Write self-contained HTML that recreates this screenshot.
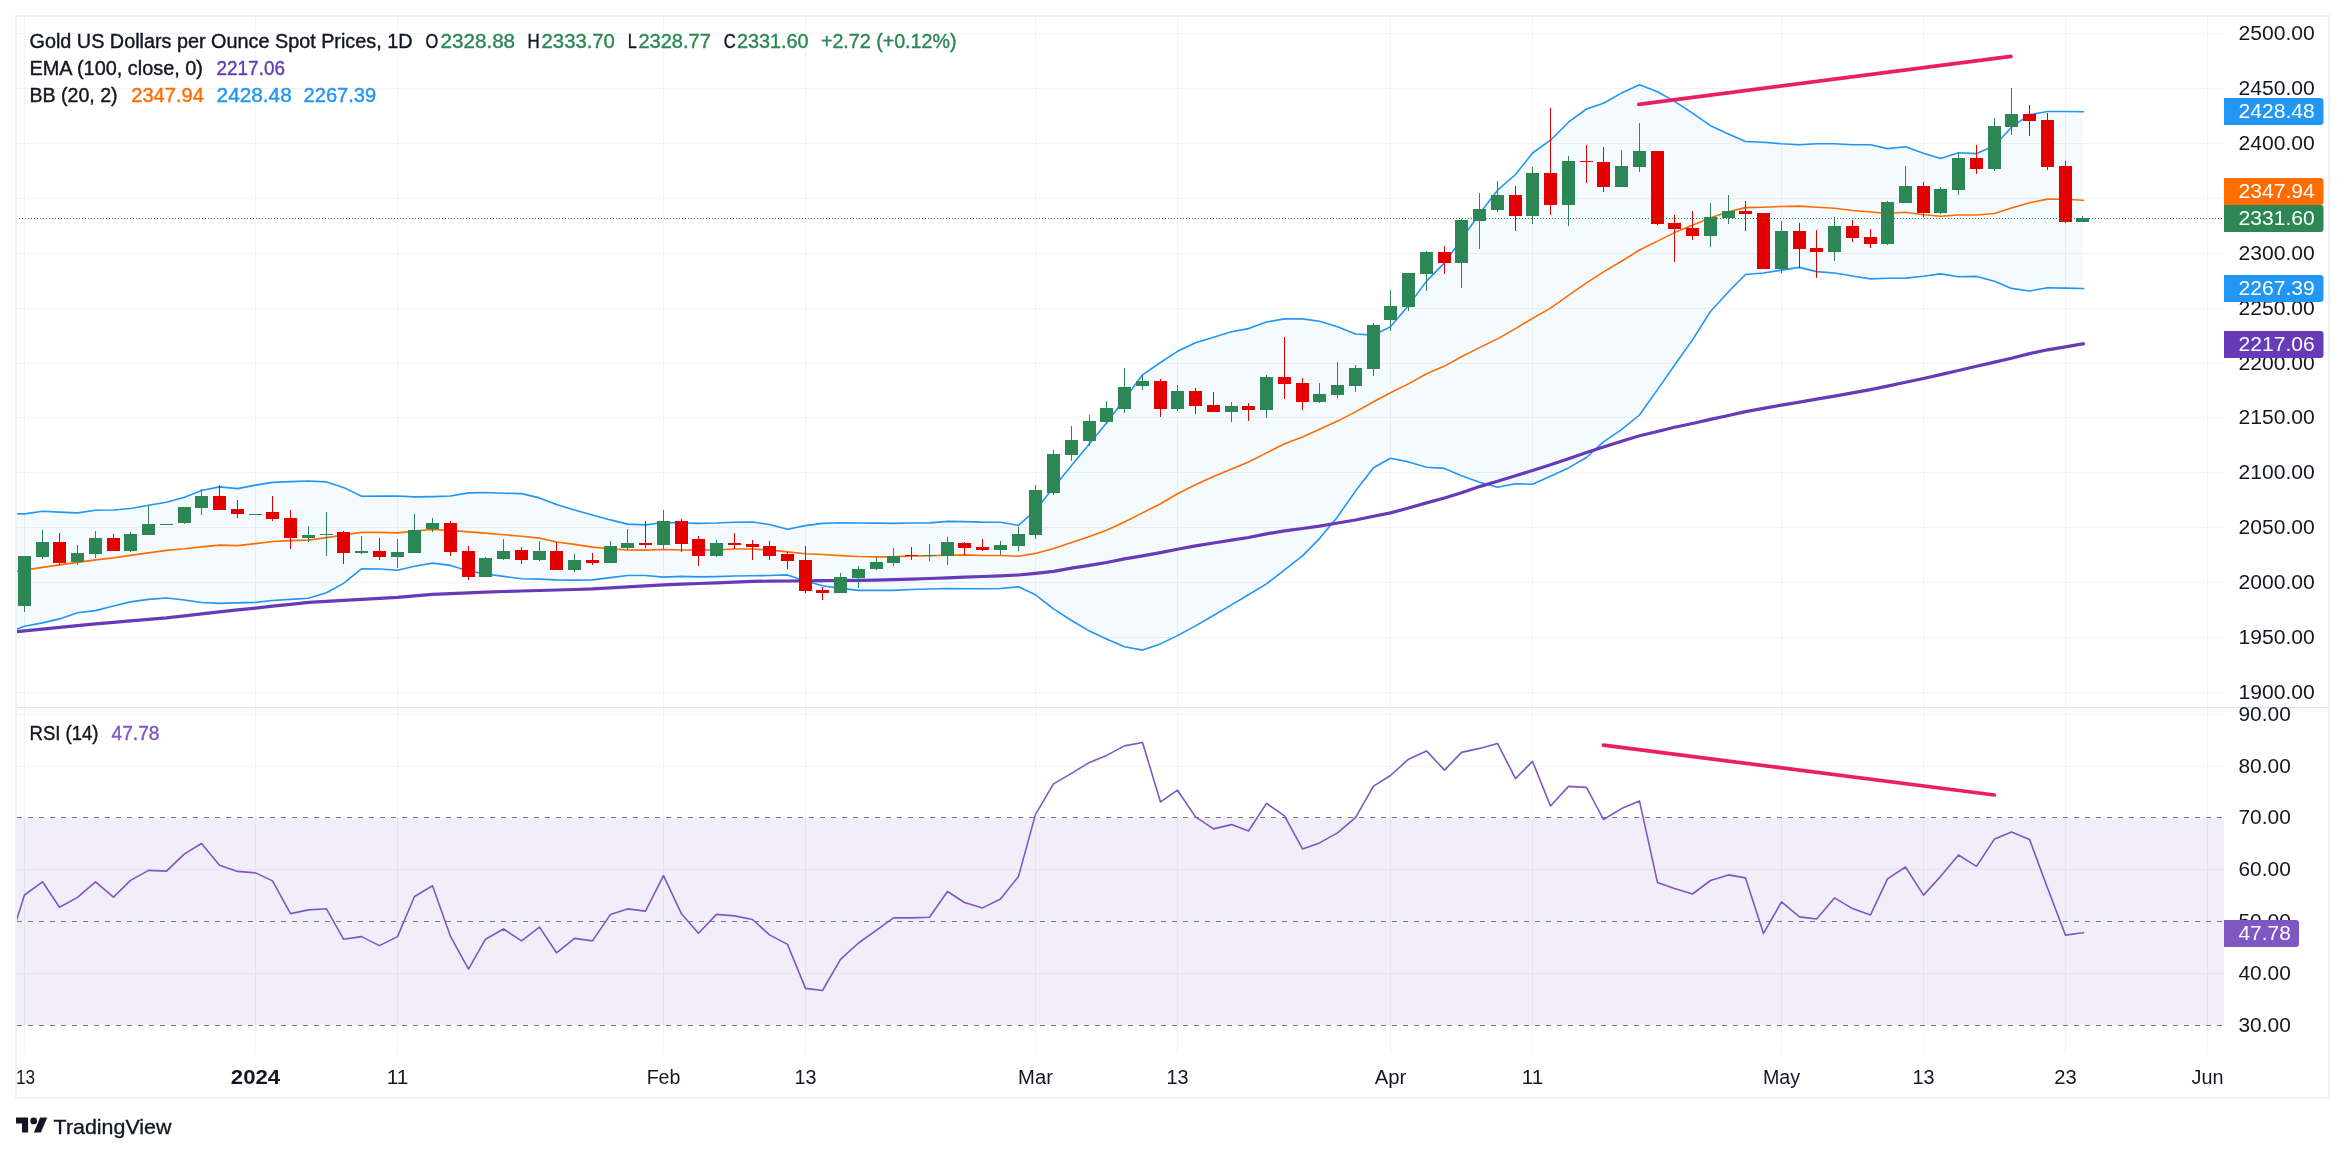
<!DOCTYPE html><html><head><meta charset="utf-8"><title>Gold chart</title>
<style>html,body{margin:0;padding:0;background:#fff}body{width:2345px;height:1154px}svg{display:block;will-change:transform}text{font-family:"Liberation Sans",sans-serif;}</style></head><body>
<svg width="2345" height="1154" viewBox="0 0 2345 1154">
<rect width="2345" height="1154" fill="#fff"/>
<defs><clipPath id="cp"><rect x="17" y="17" width="2207" height="690"/></clipPath><clipPath id="cr"><rect x="17" y="708" width="2207" height="346"/></clipPath></defs>
<path d="M24.5 15V1054M255.5 15V1054M397.5 15V1054M663.5 15V1054M805.5 15V1054M1035.5 15V1054M1177.5 15V1054M1390.5 15V1054M1532.5 15V1054M1781.5 15V1054M1923.5 15V1054M2065.5 15V1054M2207.5 15V1054M17 33.5H2224M17 88.5H2224M17 143.5H2224M17 198.5H2224M17 253.5H2224M17 308.5H2224M17 363.5H2224M17 417.5H2224M17 472.5H2224M17 527.5H2224M17 582.5H2224M17 637.5H2224M17 692.5H2224M17 714.5H2224M17 766.5H2224M17 869.5H2224M17 973.5H2224" stroke="rgba(42,46,57,0.06)" stroke-width="1" fill="none" shape-rendering="crispEdges"/>
<g clip-path="url(#cp)">
<path d="M6.8 513.4L24.5 513.9L42.5 511.3L59.5 512.1L77.5 512.9L95.5 510.3L113.5 510.0L130.5 508.5L148.5 505.3L166.5 502.2L184.5 497.2L201.5 490.5L219.5 486.9L237.5 488.6L255.5 485.1L272.5 482.4L290.5 481.6L308.5 481.0L326.5 481.9L343.5 487.4L361.5 496.3L379.5 496.1L397.5 496.0L414.5 496.9L432.5 496.6L450.5 496.0L468.5 492.9L485.5 492.5L503.5 493.2L521.5 493.6L539.5 497.9L556.5 504.6L574.5 510.0L592.5 515.0L610.5 519.9L627.5 524.1L645.5 524.9L663.5 522.5L681.5 523.0L698.5 523.4L716.5 523.0L734.5 522.2L752.5 522.0L769.5 524.5L787.5 529.2L805.5 525.6L822.5 523.4L840.5 522.8L858.5 523.0L876.5 523.1L893.5 523.4L911.5 523.0L929.5 522.9L947.5 521.4L964.5 521.6L982.5 522.1L1000.5 522.2L1018.5 525.4L1035.5 510.1L1053.5 487.5L1071.5 465.6L1089.5 443.8L1106.5 422.9L1124.5 399.2L1142.5 374.8L1160.5 362.5L1177.5 351.3L1195.5 342.8L1213.5 337.2L1231.5 331.8L1248.5 328.6L1266.5 322.0L1284.5 318.9L1302.5 318.9L1319.5 321.3L1337.5 326.8L1355.5 334.0L1373.5 335.1L1390.5 326.8L1408.5 305.5L1426.5 281.1L1444.5 262.9L1461.5 239.3L1479.5 213.8L1497.5 190.2L1515.5 174.5L1532.5 153.0L1550.5 140.2L1568.5 122.2L1586.5 109.0L1603.5 103.2L1621.5 93.1L1639.5 84.8L1657.5 91.7L1674.5 101.4L1692.5 113.2L1710.5 125.7L1728.5 134.0L1745.5 141.5L1763.5 142.2L1781.5 143.8L1799.5 144.8L1816.5 143.8L1834.5 143.8L1852.5 144.8L1870.5 144.8L1887.5 148.6L1905.5 146.7L1923.5 153.2L1940.5 158.5L1958.5 152.8L1976.5 153.6L1994.5 145.8L2011.5 127.2L2029.5 114.7L2047.5 111.5L2065.5 111.5L2082.5 111.7L2082.5 288.5L2065.5 288.1L2047.5 287.8L2029.5 291.0L2011.5 288.4L1994.5 281.3L1976.5 276.4L1958.5 276.8L1940.5 273.9L1923.5 276.2L1905.5 278.1L1887.5 278.2L1870.5 278.9L1852.5 276.0L1834.5 273.0L1816.5 271.6L1799.5 267.4L1781.5 270.1L1763.5 273.0L1745.5 274.5L1728.5 291.8L1710.5 311.5L1692.5 339.9L1674.5 365.3L1657.5 389.6L1639.5 415.0L1621.5 429.6L1603.5 441.8L1586.5 457.5L1568.5 467.9L1550.5 476.2L1532.5 484.2L1515.5 483.8L1497.5 487.3L1479.5 482.2L1461.5 475.8L1444.5 468.4L1426.5 467.2L1408.5 461.9L1390.5 458.2L1373.5 467.8L1355.5 491.1L1337.5 516.9L1319.5 538.6L1302.5 555.9L1284.5 569.9L1266.5 583.9L1248.5 594.8L1231.5 604.9L1213.5 615.5L1195.5 625.9L1177.5 635.6L1160.5 643.9L1142.5 650.1L1124.5 646.8L1106.5 638.9L1089.5 631.1L1071.5 620.5L1053.5 608.9L1035.5 594.8L1018.5 586.8L1000.5 588.5L982.5 588.8L964.5 588.8L947.5 588.5L929.5 589.0L911.5 589.5L893.5 590.4L876.5 590.4L858.5 590.4L840.5 588.4L822.5 585.8L805.5 581.0L787.5 574.9L769.5 575.5L752.5 575.8L734.5 576.0L716.5 576.6L698.5 576.9L681.5 576.4L663.5 577.1L645.5 575.5L627.5 575.5L610.5 577.6L592.5 579.9L574.5 580.1L556.5 579.9L539.5 579.1L521.5 578.8L503.5 576.4L485.5 574.0L468.5 570.9L450.5 565.4L432.5 563.1L414.5 566.2L397.5 570.2L379.5 569.0L361.5 568.9L343.5 583.4L326.5 592.8L308.5 598.2L290.5 599.4L272.5 600.5L255.5 602.4L237.5 602.9L219.5 603.4L201.5 602.5L184.5 600.0L166.5 598.0L148.5 599.4L130.5 601.9L113.5 606.0L95.5 610.6L77.5 612.8L59.5 618.9L42.5 622.9L24.5 626.2L6.8 633.1Z" fill="rgba(33,150,243,0.05)" stroke="none"/>
<path d="M6.8 572.9L24.5 570.1L42.5 567.4L59.5 564.9L77.5 562.4L95.5 559.9L113.5 557.9L130.5 555.4L148.5 552.9L166.5 550.4L184.5 548.8L201.5 546.9L219.5 545.1L237.5 545.6L255.5 543.6L272.5 541.5L290.5 540.6L308.5 540.1L326.5 537.6L343.5 535.0L361.5 532.4L379.5 532.4L397.5 532.9L414.5 531.1L432.5 529.5L450.5 530.4L468.5 531.9L485.5 533.1L503.5 534.8L521.5 536.2L539.5 538.1L556.5 542.0L574.5 544.4L592.5 547.1L610.5 548.8L627.5 550.0L645.5 550.1L663.5 549.5L681.5 550.0L698.5 550.1L716.5 549.9L734.5 549.0L752.5 549.0L769.5 549.9L787.5 551.9L805.5 553.8L822.5 554.5L840.5 555.6L858.5 556.5L876.5 556.9L893.5 556.9L911.5 555.9L929.5 555.8L947.5 555.2L964.5 554.9L982.5 555.5L1000.5 555.5L1018.5 556.2L1035.5 553.4L1053.5 548.4L1071.5 542.6L1089.5 536.6L1106.5 530.2L1124.5 522.0L1142.5 512.9L1160.5 503.8L1177.5 493.8L1195.5 484.8L1213.5 476.5L1231.5 468.9L1248.5 462.0L1266.5 452.9L1284.5 443.8L1302.5 437.1L1319.5 429.3L1337.5 421.1L1355.5 411.9L1373.5 401.8L1390.5 392.8L1408.5 383.9L1426.5 373.8L1444.5 366.1L1461.5 356.8L1479.5 347.6L1497.5 338.9L1515.5 328.6L1532.5 318.4L1550.5 308.1L1568.5 295.3L1586.5 282.8L1603.5 271.9L1621.5 261.3L1639.5 250.0L1657.5 241.1L1674.5 232.6L1692.5 225.2L1710.5 217.8L1728.5 211.7L1745.5 207.6L1763.5 207.2L1781.5 206.5L1799.5 206.1L1816.5 207.2L1834.5 208.2L1852.5 210.5L1870.5 212.0L1887.5 213.5L1905.5 212.2L1923.5 214.7L1940.5 216.2L1958.5 215.0L1976.5 215.0L1994.5 213.5L2011.5 208.1L2029.5 202.8L2047.5 199.1L2065.5 199.2L2082.5 200.2L2083.5 200.2" fill="none" stroke="#ff6d00" stroke-width="1.6" stroke-linejoin="round" stroke-linecap="round"/>
<path d="M6.8 513.4L24.5 513.9L42.5 511.3L59.5 512.1L77.5 512.9L95.5 510.3L113.5 510.0L130.5 508.5L148.5 505.3L166.5 502.2L184.5 497.2L201.5 490.5L219.5 486.9L237.5 488.6L255.5 485.1L272.5 482.4L290.5 481.6L308.5 481.0L326.5 481.9L343.5 487.4L361.5 496.3L379.5 496.1L397.5 496.0L414.5 496.9L432.5 496.6L450.5 496.0L468.5 492.9L485.5 492.5L503.5 493.2L521.5 493.6L539.5 497.9L556.5 504.6L574.5 510.0L592.5 515.0L610.5 519.9L627.5 524.1L645.5 524.9L663.5 522.5L681.5 523.0L698.5 523.4L716.5 523.0L734.5 522.2L752.5 522.0L769.5 524.5L787.5 529.2L805.5 525.6L822.5 523.4L840.5 522.8L858.5 523.0L876.5 523.1L893.5 523.4L911.5 523.0L929.5 522.9L947.5 521.4L964.5 521.6L982.5 522.1L1000.5 522.2L1018.5 525.4L1035.5 510.1L1053.5 487.5L1071.5 465.6L1089.5 443.8L1106.5 422.9L1124.5 399.2L1142.5 374.8L1160.5 362.5L1177.5 351.3L1195.5 342.8L1213.5 337.2L1231.5 331.8L1248.5 328.6L1266.5 322.0L1284.5 318.9L1302.5 318.9L1319.5 321.3L1337.5 326.8L1355.5 334.0L1373.5 335.1L1390.5 326.8L1408.5 305.5L1426.5 281.1L1444.5 262.9L1461.5 239.3L1479.5 213.8L1497.5 190.2L1515.5 174.5L1532.5 153.0L1550.5 140.2L1568.5 122.2L1586.5 109.0L1603.5 103.2L1621.5 93.1L1639.5 84.8L1657.5 91.7L1674.5 101.4L1692.5 113.2L1710.5 125.7L1728.5 134.0L1745.5 141.5L1763.5 142.2L1781.5 143.8L1799.5 144.8L1816.5 143.8L1834.5 143.8L1852.5 144.8L1870.5 144.8L1887.5 148.6L1905.5 146.7L1923.5 153.2L1940.5 158.5L1958.5 152.8L1976.5 153.6L1994.5 145.8L2011.5 127.2L2029.5 114.7L2047.5 111.5L2065.5 111.5L2082.5 111.7L2083.5 111.7" fill="none" stroke="#2196f3" stroke-width="1.6" stroke-linejoin="round" stroke-linecap="round"/>
<path d="M6.8 633.1L24.5 626.2L42.5 622.9L59.5 618.9L77.5 612.8L95.5 610.6L113.5 606.0L130.5 601.9L148.5 599.4L166.5 598.0L184.5 600.0L201.5 602.5L219.5 603.4L237.5 602.9L255.5 602.4L272.5 600.5L290.5 599.4L308.5 598.2L326.5 592.8L343.5 583.4L361.5 568.9L379.5 569.0L397.5 570.2L414.5 566.2L432.5 563.1L450.5 565.4L468.5 570.9L485.5 574.0L503.5 576.4L521.5 578.8L539.5 579.1L556.5 579.9L574.5 580.1L592.5 579.9L610.5 577.6L627.5 575.5L645.5 575.5L663.5 577.1L681.5 576.4L698.5 576.9L716.5 576.6L734.5 576.0L752.5 575.8L769.5 575.5L787.5 574.9L805.5 581.0L822.5 585.8L840.5 588.4L858.5 590.4L876.5 590.4L893.5 590.4L911.5 589.5L929.5 589.0L947.5 588.5L964.5 588.8L982.5 588.8L1000.5 588.5L1018.5 586.8L1035.5 594.8L1053.5 608.9L1071.5 620.5L1089.5 631.1L1106.5 638.9L1124.5 646.8L1142.5 650.1L1160.5 643.9L1177.5 635.6L1195.5 625.9L1213.5 615.5L1231.5 604.9L1248.5 594.8L1266.5 583.9L1284.5 569.9L1302.5 555.9L1319.5 538.6L1337.5 516.9L1355.5 491.1L1373.5 467.8L1390.5 458.2L1408.5 461.9L1426.5 467.2L1444.5 468.4L1461.5 475.8L1479.5 482.2L1497.5 487.3L1515.5 483.8L1532.5 484.2L1550.5 476.2L1568.5 467.9L1586.5 457.5L1603.5 441.8L1621.5 429.6L1639.5 415.0L1657.5 389.6L1674.5 365.3L1692.5 339.9L1710.5 311.5L1728.5 291.8L1745.5 274.5L1763.5 273.0L1781.5 270.1L1799.5 267.4L1816.5 271.6L1834.5 273.0L1852.5 276.0L1870.5 278.9L1887.5 278.2L1905.5 278.1L1923.5 276.2L1940.5 273.9L1958.5 276.8L1976.5 276.4L1994.5 281.3L2011.5 288.4L2029.5 291.0L2047.5 287.8L2065.5 288.1L2082.5 288.5L2083.5 288.6" fill="none" stroke="#2196f3" stroke-width="1.6" stroke-linejoin="round" stroke-linecap="round"/>
<path d="M6.8 632.5L24.5 630.9L42.5 629.2L59.5 627.4L77.5 625.7L95.5 623.9L113.5 622.4L130.5 620.9L148.5 619.3L166.5 617.8L184.5 615.8L201.5 613.9L219.5 611.9L237.5 609.9L255.5 608.1L272.5 606.2L290.5 604.3L308.5 602.4L326.5 601.4L343.5 600.4L361.5 599.4L379.5 598.4L397.5 597.4L414.5 595.9L432.5 594.4L450.5 593.6L468.5 592.9L485.5 592.2L503.5 591.5L521.5 591.0L539.5 590.5L556.5 590.0L574.5 589.5L592.5 588.9L610.5 587.9L627.5 586.9L645.5 585.9L663.5 584.9L681.5 584.2L698.5 583.5L716.5 582.8L734.5 582.1L752.5 581.4L769.5 581.1L787.5 581.0L805.5 580.8L822.5 580.6L840.5 580.5L858.5 580.4L876.5 580.2L893.5 579.7L911.5 579.1L929.5 578.5L947.5 577.9L964.5 577.2L982.5 576.5L1000.5 575.8L1018.5 575.0L1035.5 573.4L1053.5 571.4L1071.5 568.2L1089.5 565.4L1106.5 562.5L1124.5 558.9L1142.5 555.9L1160.5 552.6L1177.5 549.2L1195.5 545.9L1213.5 543.0L1231.5 540.2L1248.5 537.5L1266.5 533.9L1284.5 530.9L1302.5 528.5L1319.5 526.1L1337.5 523.0L1355.5 520.0L1373.5 516.2L1390.5 512.9L1408.5 508.0L1426.5 502.9L1444.5 498.0L1461.5 492.8L1479.5 486.6L1497.5 481.3L1515.5 475.8L1532.5 470.4L1550.5 464.8L1568.5 458.8L1586.5 452.6L1603.5 447.1L1621.5 441.2L1639.5 435.8L1657.5 431.5L1674.5 427.2L1692.5 423.5L1710.5 419.4L1728.5 415.5L1745.5 411.6L1763.5 408.4L1781.5 405.1L1799.5 402.2L1816.5 399.2L1834.5 396.1L1852.5 392.9L1870.5 389.6L1887.5 386.1L1905.5 382.3L1923.5 378.5L1940.5 374.6L1958.5 370.5L1976.5 366.3L1994.5 362.1L2011.5 358.2L2029.5 353.6L2047.5 349.8L2065.5 346.8L2082.5 343.9L2083.5 343.8" fill="none" stroke="#673ab7" stroke-width="3.2" stroke-linejoin="round" stroke-linecap="round"/>
<path d="M24 556h1V612h-1ZM18 556h13V606h-13ZM42 530h1V559h-1ZM36 542h13V557h-13ZM77 545h1V565h-1ZM71 553h13V562h-13ZM95 531h1V558h-1ZM89 538h13V554h-13ZM130 532h1V552h-1ZM124 534h13V551h-13ZM148 505h1V535h-1ZM142 524h13V535h-13ZM166 524h1V525h-1ZM160 524h13V525h-13ZM184 507h1V524h-1ZM178 507h13V523h-13ZM201 489h1V515h-1ZM195 496h13V508h-13ZM255 514h1V515h-1ZM249 514h13V515h-13ZM308 526h1V542h-1ZM302 535h13V538h-13ZM326 512h1V556h-1ZM320 534h13V535h-13ZM361 536h1V554h-1ZM355 551h13V553h-13ZM397 539h1V568h-1ZM391 552h13V557h-13ZM414 514h1V553h-1ZM408 530h13V553h-13ZM432 518h1V532h-1ZM426 523h13V529h-13ZM485 557h1V577h-1ZM479 558h13V577h-13ZM503 539h1V560h-1ZM497 551h13V559h-13ZM539 541h1V561h-1ZM533 551h13V560h-13ZM574 554h1V572h-1ZM568 560h13V570h-13ZM610 541h1V563h-1ZM604 546h13V563h-13ZM627 529h1V550h-1ZM621 543h13V548h-13ZM663 510h1V549h-1ZM657 521h13V545h-13ZM716 540h1V557h-1ZM710 543h13V556h-13ZM840 573h1V593h-1ZM834 577h13V593h-13ZM858 566h1V588h-1ZM852 569h13V578h-13ZM876 557h1V570h-1ZM870 562h13V569h-13ZM893 548h1V566h-1ZM887 556h13V563h-13ZM929 544h1V561h-1ZM923 555h13V556h-13ZM947 537h1V565h-1ZM941 542h13V556h-13ZM1000 541h1V555h-1ZM994 545h13V550h-13ZM1018 527h1V551h-1ZM1012 534h13V546h-13ZM1035 485h1V539h-1ZM1029 490h13V535h-13ZM1053 450h1V495h-1ZM1047 454h13V493h-13ZM1071 426h1V461h-1ZM1065 440h13V455h-13ZM1089 415h1V446h-1ZM1083 421h13V441h-13ZM1106 401h1V424h-1ZM1100 408h13V422h-13ZM1124 368h1V413h-1ZM1118 387h13V409h-13ZM1142 375h1V390h-1ZM1136 381h13V386h-13ZM1177 385h1V411h-1ZM1171 391h13V409h-13ZM1231 402h1V422h-1ZM1225 406h13V412h-13ZM1266 375h1V418h-1ZM1260 377h13V410h-13ZM1319 383h1V403h-1ZM1313 394h13V402h-13ZM1337 362h1V398h-1ZM1331 385h13V395h-13ZM1355 365h1V392h-1ZM1349 368h13V386h-13ZM1373 323h1V376h-1ZM1367 325h13V369h-13ZM1390 290h1V331h-1ZM1384 306h13V320h-13ZM1408 273h1V311h-1ZM1402 273h13V307h-13ZM1426 251h1V291h-1ZM1420 252h13V274h-13ZM1461 219h1V288h-1ZM1455 220h13V263h-13ZM1479 193h1V249h-1ZM1473 209h13V221h-13ZM1497 181h1V212h-1ZM1491 195h13V210h-13ZM1532 167h1V224h-1ZM1526 173h13V216h-13ZM1568 156h1V226h-1ZM1562 161h13V205h-13ZM1621 150h1V187h-1ZM1615 166h13V187h-13ZM1639 123h1V172h-1ZM1633 151h13V167h-13ZM1710 203h1V247h-1ZM1704 217h13V236h-13ZM1728 195h1V224h-1ZM1722 211h13V218h-13ZM1781 221h1V273h-1ZM1775 231h13V269h-13ZM1834 217h1V261h-1ZM1828 226h13V252h-13ZM1887 201h1V245h-1ZM1881 202h13V244h-13ZM1905 166h1V203h-1ZM1899 186h13V203h-13ZM1940 187h1V214h-1ZM1934 189h13V213h-13ZM1958 153h1V195h-1ZM1952 158h13V190h-13ZM1994 118h1V171h-1ZM1988 126h13V169h-13ZM2011 88h1V135h-1ZM2005 114h13V127h-13ZM2082 216h1V222h-1ZM2076 218h13V222h-13Z" fill="#2d8755" shape-rendering="crispEdges"/>
<path d="M59 533h1V565h-1ZM53 542h13V563h-13ZM113 534h1V551h-1ZM107 538h13V551h-13ZM219 485h1V510h-1ZM213 496h13V510h-13ZM237 500h1V518h-1ZM231 509h13V514h-13ZM272 496h1V521h-1ZM266 512h13V519h-13ZM290 510h1V549h-1ZM284 518h13V538h-13ZM343 531h1V564h-1ZM337 532h13V553h-13ZM379 538h1V560h-1ZM373 551h13V557h-13ZM450 521h1V556h-1ZM444 523h13V552h-13ZM468 546h1V580h-1ZM462 551h13V577h-13ZM521 547h1V564h-1ZM515 550h13V560h-13ZM556 542h1V570h-1ZM550 551h13V570h-13ZM592 553h1V565h-1ZM586 560h13V563h-13ZM645 521h1V548h-1ZM639 543h13V545h-13ZM681 519h1V552h-1ZM675 521h13V544h-13ZM698 536h1V566h-1ZM692 539h13V556h-13ZM734 533h1V549h-1ZM728 543h13V545h-13ZM752 540h1V560h-1ZM746 544h13V547h-13ZM769 541h1V560h-1ZM763 546h13V556h-13ZM787 552h1V569h-1ZM781 554h13V561h-13ZM805 546h1V593h-1ZM799 560h13V591h-13ZM822 587h1V600h-1ZM816 590h13V593h-13ZM911 547h1V560h-1ZM905 555h13V556h-13ZM964 542h1V555h-1ZM958 543h13V548h-13ZM982 539h1V551h-1ZM976 547h13V550h-13ZM1160 379h1V417h-1ZM1154 381h13V409h-13ZM1195 388h1V414h-1ZM1189 391h13V406h-13ZM1213 392h1V412h-1ZM1207 405h13V412h-13ZM1248 403h1V421h-1ZM1242 406h13V410h-13ZM1284 337h1V399h-1ZM1278 377h13V384h-13ZM1302 378h1V410h-1ZM1296 383h13V402h-13ZM1444 246h1V274h-1ZM1438 252h13V263h-13ZM1515 186h1V231h-1ZM1509 195h13V216h-13ZM1550 108h1V215h-1ZM1544 173h13V205h-13ZM1586 145h1V183h-1ZM1580 161h13V162h-13ZM1603 147h1V192h-1ZM1597 162h13V187h-13ZM1657 151h1V225h-1ZM1651 151h13V224h-13ZM1674 215h1V262h-1ZM1668 223h13V229h-13ZM1692 211h1V240h-1ZM1686 228h13V236h-13ZM1745 201h1V231h-1ZM1739 211h13V214h-13ZM1763 213h1V269h-1ZM1757 213h13V269h-13ZM1799 223h1V268h-1ZM1793 231h13V249h-13ZM1816 230h1V278h-1ZM1810 248h13V252h-13ZM1852 220h1V242h-1ZM1846 226h13V238h-13ZM1870 229h1V248h-1ZM1864 237h13V244h-13ZM1923 182h1V217h-1ZM1917 186h13V213h-13ZM1976 145h1V174h-1ZM1970 158h13V169h-13ZM2029 105h1V136h-1ZM2023 114h13V121h-13ZM2047 113h1V170h-1ZM2041 120h13V167h-13ZM2065 161h1V223h-1ZM2059 166h13V222h-13Z" fill="#e50000" shape-rendering="crispEdges"/>
</g>
<path d="M16 218.5H2224" stroke="#2d8755" stroke-width="1" stroke-dasharray="1 2" fill="none" shape-rendering="crispEdges"/>
<path d="M1638.8 104.3L2011 56.3" stroke="#e91e63" stroke-width="3.7" stroke-linecap="round" fill="none"/>
<rect x="17" y="818" width="2207" height="207" fill="rgba(126,87,194,0.1)"/>
<path d="M17 817.5H2224" stroke="#787b86" stroke-width="1" stroke-dasharray="5 6" fill="none" shape-rendering="crispEdges"/>
<path d="M17 921.5H2224" stroke="#787b86" stroke-width="1" stroke-dasharray="5 6" fill="none" shape-rendering="crispEdges"/>
<path d="M17 1025.5H2224" stroke="#787b86" stroke-width="1" stroke-dasharray="5 6" fill="none" shape-rendering="crispEdges"/>
<g clip-path="url(#cr)">
<path d="M6.8 950.9L24.5 895.0L42.5 881.8L59.5 907.2L77.5 897.4L95.5 881.8L113.5 897.1L130.5 880.4L148.5 870.4L166.5 871.1L184.5 853.9L201.5 843.5L219.5 865.2L237.5 871.4L255.5 872.9L272.5 880.9L290.5 913.6L308.5 909.9L326.5 908.8L343.5 939.2L361.5 936.6L379.5 945.6L397.5 936.6L414.5 896.5L432.5 885.8L450.5 936.4L468.5 969.2L485.5 939.2L503.5 929.0L521.5 940.9L539.5 927.1L556.5 952.8L574.5 938.4L592.5 940.9L610.5 914.4L627.5 908.9L645.5 911.1L663.5 875.6L681.5 913.8L698.5 933.2L716.5 914.4L734.5 915.9L752.5 919.5L769.5 934.9L787.5 944.4L805.5 988.4L822.5 990.5L840.5 959.4L858.5 943.0L876.5 930.1L893.5 917.9L911.5 917.9L929.5 917.2L947.5 891.5L964.5 902.5L982.5 907.9L1000.5 899.0L1018.5 876.4L1035.5 814.4L1053.5 783.9L1071.5 773.4L1089.5 762.4L1106.5 755.4L1124.5 745.9L1142.5 742.5L1160.5 801.9L1177.5 790.2L1195.5 816.9L1213.5 828.9L1231.5 824.6L1248.5 831.0L1266.5 803.4L1284.5 815.9L1302.5 848.9L1319.5 842.9L1337.5 832.9L1355.5 817.6L1373.5 786.1L1390.5 775.5L1408.5 759.2L1426.5 750.9L1444.5 770.1L1461.5 752.4L1479.5 748.4L1497.5 743.4L1515.5 778.6L1532.5 761.4L1550.5 806.0L1568.5 786.4L1586.5 787.4L1603.5 819.5L1621.5 808.6L1639.5 801.1L1657.5 882.6L1674.5 888.4L1692.5 894.0L1710.5 880.5L1728.5 874.9L1745.5 877.9L1763.5 933.4L1781.5 901.9L1799.5 916.9L1816.5 919.0L1834.5 897.9L1852.5 908.6L1870.5 914.9L1887.5 878.8L1905.5 867.0L1923.5 895.1L1940.5 876.6L1958.5 855.0L1976.5 866.4L1994.5 838.9L2011.5 831.9L2029.5 839.4L2047.5 888.0L2065.5 935.1L2082.5 932.8L2083.5 932.6" fill="none" stroke="#7e57c2" stroke-width="1.6" stroke-linejoin="round" stroke-linecap="round"/>
</g>
<path d="M1603.4 745.2L1994.4 795" stroke="#e91e63" stroke-width="3.7" stroke-linecap="round" fill="none"/>
<path d="M17 707.5H2328" stroke="#e0e3eb" stroke-width="1" fill="none" shape-rendering="crispEdges"/>
<rect x="16" y="16" width="2313" height="1082" fill="none" stroke="#eef0f6" stroke-width="2" shape-rendering="crispEdges"/>
<g id="txt">
<text x="2238.5" y="39.8" fill="#131722" font-size="19.5" textLength="76.2" lengthAdjust="spacingAndGlyphs" >2500.00</text>
<text x="2238.5" y="94.8" fill="#131722" font-size="19.5" textLength="76.2" lengthAdjust="spacingAndGlyphs" >2450.00</text>
<text x="2238.5" y="149.8" fill="#131722" font-size="19.5" textLength="76.2" lengthAdjust="spacingAndGlyphs" >2400.00</text>
<text x="2238.5" y="204.8" fill="#131722" font-size="19.5" textLength="76.2" lengthAdjust="spacingAndGlyphs" >2350.00</text>
<text x="2238.5" y="259.8" fill="#131722" font-size="19.5" textLength="76.2" lengthAdjust="spacingAndGlyphs" >2300.00</text>
<text x="2238.5" y="314.8" fill="#131722" font-size="19.5" textLength="76.2" lengthAdjust="spacingAndGlyphs" >2250.00</text>
<text x="2238.5" y="369.8" fill="#131722" font-size="19.5" textLength="76.2" lengthAdjust="spacingAndGlyphs" >2200.00</text>
<text x="2238.5" y="423.8" fill="#131722" font-size="19.5" textLength="76.2" lengthAdjust="spacingAndGlyphs" >2150.00</text>
<text x="2238.5" y="478.8" fill="#131722" font-size="19.5" textLength="76.2" lengthAdjust="spacingAndGlyphs" >2100.00</text>
<text x="2238.5" y="533.8" fill="#131722" font-size="19.5" textLength="76.2" lengthAdjust="spacingAndGlyphs" >2050.00</text>
<text x="2238.5" y="588.8" fill="#131722" font-size="19.5" textLength="76.2" lengthAdjust="spacingAndGlyphs" >2000.00</text>
<text x="2238.5" y="643.8" fill="#131722" font-size="19.5" textLength="76.2" lengthAdjust="spacingAndGlyphs" >1950.00</text>
<text x="2238.5" y="698.8" fill="#131722" font-size="19.5" textLength="76.2" lengthAdjust="spacingAndGlyphs" >1900.00</text>
<text x="2238.5" y="721.3" fill="#131722" font-size="19.5" textLength="52.3" lengthAdjust="spacingAndGlyphs" >90.00</text>
<text x="2238.5" y="773.3" fill="#131722" font-size="19.5" textLength="52.3" lengthAdjust="spacingAndGlyphs" >80.00</text>
<text x="2238.5" y="824.3" fill="#131722" font-size="19.5" textLength="52.3" lengthAdjust="spacingAndGlyphs" >70.00</text>
<text x="2238.5" y="876.3" fill="#131722" font-size="19.5" textLength="52.3" lengthAdjust="spacingAndGlyphs" >60.00</text>
<text x="2238.5" y="928.3" fill="#131722" font-size="19.5" textLength="52.3" lengthAdjust="spacingAndGlyphs" >50.00</text>
<text x="2238.5" y="980.3" fill="#131722" font-size="19.5" textLength="52.3" lengthAdjust="spacingAndGlyphs" >40.00</text>
<text x="2238.5" y="1032.3" fill="#131722" font-size="19.5" textLength="52.3" lengthAdjust="spacingAndGlyphs" >30.00</text>
<path d="M2224 98.0H2320.5a3 3 0 0 1 3 3V122.0a3 3 0 0 1 -3 3H2224Z" fill="#2196f3"/>
<text x="2238.5" y="118.2" fill="#fff" font-size="19.5" textLength="76.2" lengthAdjust="spacingAndGlyphs" >2428.48</text>
<path d="M2224 178.0H2320.5a3 3 0 0 1 3 3V202.0a3 3 0 0 1 -3 3H2224Z" fill="#ff6d00"/>
<text x="2238.5" y="198.2" fill="#fff" font-size="19.5" textLength="76.2" lengthAdjust="spacingAndGlyphs" >2347.94</text>
<path d="M2224 205.0H2320.5a3 3 0 0 1 3 3V229.0a3 3 0 0 1 -3 3H2224Z" fill="#2d8755"/>
<text x="2238.5" y="225.2" fill="#fff" font-size="19.5" textLength="76.2" lengthAdjust="spacingAndGlyphs" >2331.60</text>
<path d="M2224 275.0H2320.5a3 3 0 0 1 3 3V299.0a3 3 0 0 1 -3 3H2224Z" fill="#2196f3"/>
<text x="2238.5" y="295.2" fill="#fff" font-size="19.5" textLength="76.2" lengthAdjust="spacingAndGlyphs" >2267.39</text>
<path d="M2224 331.0H2320.5a3 3 0 0 1 3 3V355.0a3 3 0 0 1 -3 3H2224Z" fill="#673ab7"/>
<text x="2238.5" y="351.2" fill="#fff" font-size="19.5" textLength="76.2" lengthAdjust="spacingAndGlyphs" >2217.06</text>
<path d="M2224 920.0H2296a3 3 0 0 1 3 3V944.0a3 3 0 0 1 -3 3H2224Z" fill="#7e57c2"/>
<text x="2238.5" y="940.2" fill="#fff" font-size="19.5" textLength="52.3" lengthAdjust="spacingAndGlyphs" >47.78</text>
<text x="25.5" y="1084" fill="#131722" font-size="20" textLength="19.2" lengthAdjust="spacingAndGlyphs" text-anchor="middle" >13</text>
<text x="255.5" y="1084" fill="#131722" font-size="20" textLength="49.4" lengthAdjust="spacingAndGlyphs" text-anchor="middle" font-weight="bold" >2024</text>
<text x="397.5" y="1084" fill="#131722" font-size="20" textLength="21.5" lengthAdjust="spacingAndGlyphs" text-anchor="middle" >11</text>
<text x="663.5" y="1084" fill="#131722" font-size="20" textLength="33.7" lengthAdjust="spacingAndGlyphs" text-anchor="middle" >Feb</text>
<text x="805.5" y="1084" fill="#131722" font-size="20" textLength="22" lengthAdjust="spacingAndGlyphs" text-anchor="middle" >13</text>
<text x="1035.5" y="1084" fill="#131722" font-size="20" textLength="34.8" lengthAdjust="spacingAndGlyphs" text-anchor="middle" >Mar</text>
<text x="1177.5" y="1084" fill="#131722" font-size="20" textLength="22" lengthAdjust="spacingAndGlyphs" text-anchor="middle" >13</text>
<text x="1390.5" y="1084" fill="#131722" font-size="20" textLength="31.6" lengthAdjust="spacingAndGlyphs" text-anchor="middle" >Apr</text>
<text x="1532.5" y="1084" fill="#131722" font-size="20" textLength="21.5" lengthAdjust="spacingAndGlyphs" text-anchor="middle" >11</text>
<text x="1781.5" y="1084" fill="#131722" font-size="20" textLength="37.2" lengthAdjust="spacingAndGlyphs" text-anchor="middle" >May</text>
<text x="1923.5" y="1084" fill="#131722" font-size="20" textLength="22" lengthAdjust="spacingAndGlyphs" text-anchor="middle" >13</text>
<text x="2065.5" y="1084" fill="#131722" font-size="20" textLength="22.4" lengthAdjust="spacingAndGlyphs" text-anchor="middle" >23</text>
<text x="2207.5" y="1084" fill="#131722" font-size="20" textLength="32" lengthAdjust="spacingAndGlyphs" text-anchor="middle" >Jun</text>
<text x="29.5" y="48" fill="#131722" font-size="20" textLength="383" lengthAdjust="spacingAndGlyphs" stroke="#131722" stroke-width="0.4" >Gold US Dollars per Ounce Spot Prices, 1D</text>
<text x="425.6" y="48" fill="#131722" font-size="20" textLength="12.8" lengthAdjust="spacingAndGlyphs" stroke="#131722" stroke-width="0.4" >O</text>
<text x="440.5" y="48" fill="#2d8755" font-size="20" textLength="74.6" lengthAdjust="spacingAndGlyphs" stroke="#2d8755" stroke-width="0.4" >2328.88</text>
<text x="527.5" y="48" fill="#131722" font-size="20" textLength="12.2" lengthAdjust="spacingAndGlyphs" stroke="#131722" stroke-width="0.4" >H</text>
<text x="541.6" y="48" fill="#2d8755" font-size="20" textLength="73.3" lengthAdjust="spacingAndGlyphs" stroke="#2d8755" stroke-width="0.4" >2333.70</text>
<text x="627.7" y="48" fill="#131722" font-size="20" textLength="9" lengthAdjust="spacingAndGlyphs" stroke="#131722" stroke-width="0.4" >L</text>
<text x="638.4" y="48" fill="#2d8755" font-size="20" textLength="72.5" lengthAdjust="spacingAndGlyphs" stroke="#2d8755" stroke-width="0.4" >2328.77</text>
<text x="723.7" y="48" fill="#131722" font-size="20" textLength="12" lengthAdjust="spacingAndGlyphs" stroke="#131722" stroke-width="0.4" >C</text>
<text x="736.9" y="48" fill="#2d8755" font-size="20" textLength="71.6" lengthAdjust="spacingAndGlyphs" stroke="#2d8755" stroke-width="0.4" >2331.60</text>
<text x="820.9" y="48" fill="#2d8755" font-size="20" textLength="135.6" lengthAdjust="spacingAndGlyphs" stroke="#2d8755" stroke-width="0.4" >+2.72 (+0.12%)</text>
<text x="29.5" y="75" fill="#131722" font-size="20" textLength="173.4" lengthAdjust="spacingAndGlyphs" stroke="#131722" stroke-width="0.4" >EMA (100, close, 0)</text>
<text x="216.6" y="75" fill="#673ab7" font-size="20" textLength="68.3" lengthAdjust="spacingAndGlyphs" stroke="#673ab7" stroke-width="0.4" >2217.06</text>
<text x="29.5" y="102" fill="#131722" font-size="20" textLength="88.1" lengthAdjust="spacingAndGlyphs" stroke="#131722" stroke-width="0.4" >BB (20, 2)</text>
<text x="131.3" y="102" fill="#ff6d00" font-size="20" textLength="72.5" lengthAdjust="spacingAndGlyphs" stroke="#ff6d00" stroke-width="0.4" >2347.94</text>
<text x="216.6" y="102" fill="#2196f3" font-size="20" textLength="75.1" lengthAdjust="spacingAndGlyphs" stroke="#2196f3" stroke-width="0.4" >2428.48</text>
<text x="303.6" y="102" fill="#2196f3" font-size="20" textLength="72.5" lengthAdjust="spacingAndGlyphs" stroke="#2196f3" stroke-width="0.4" >2267.39</text>
<text x="29.5" y="740.3" fill="#131722" font-size="20" textLength="69" lengthAdjust="spacingAndGlyphs" stroke="#131722" stroke-width="0.4" >RSI (14)</text>
<text x="111.5" y="740.3" fill="#7e57c2" font-size="20" textLength="48" lengthAdjust="spacingAndGlyphs" stroke="#7e57c2" stroke-width="0.4" >47.78</text>
<g fill="#131722"><path d="M16 1117.5H28.1V1132.6H22V1123.4H16Z"/><circle cx="33.7" cy="1120.9" r="3.4"/><path d="M40.1 1117.5H47.2L40.9 1132.6H33.9Z"/></g>
<text x="53.6" y="1134" fill="#131722" font-size="21" textLength="117.8" lengthAdjust="spacingAndGlyphs" stroke="#131722" stroke-width="0.35">TradingView</text>
</g>
</svg></body></html>
